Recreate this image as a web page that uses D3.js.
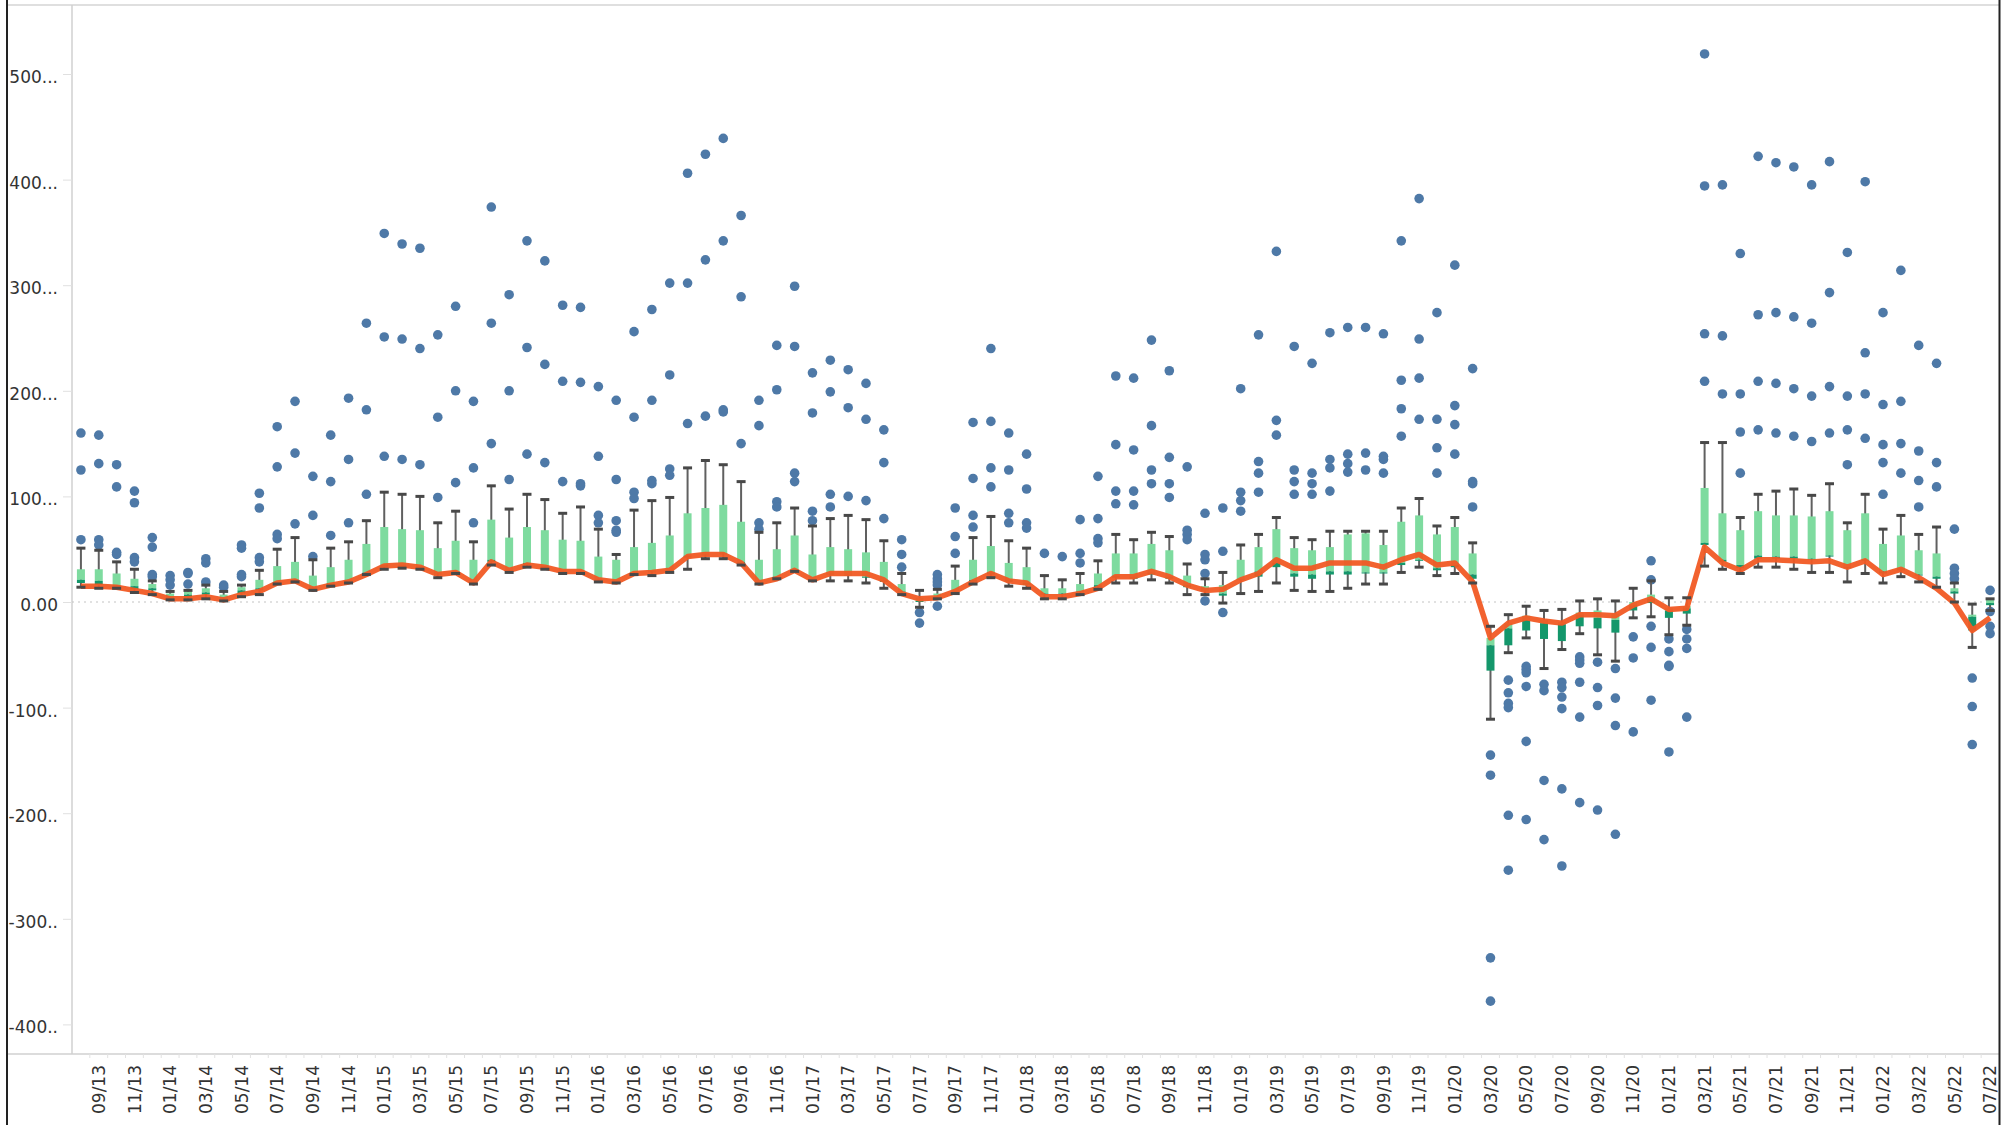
<!DOCTYPE html>
<html lang="en">

<head>
    <meta charset="UTF-8">
    <script src="https://d3js.org/d3.v7.min.js"></script>
    <title>Monthly box plot</title>
    <style>
        body { margin: 0; background: #fff; }
        text { font-family: "DejaVu Sans", sans-serif; }
    </style>
</head>

<body>
    <div id="chart"></div>
    <script>
        const months = [
            "08/13", "09/13", "10/13", "11/13", "12/13",
            "01/14", "02/14", "03/14", "04/14", "05/14", "06/14", "07/14", "08/14", "09/14", "10/14", "11/14", "12/14",
            "01/15", "02/15", "03/15", "04/15", "05/15", "06/15", "07/15", "08/15", "09/15", "10/15", "11/15", "12/15",
            "01/16", "02/16", "03/16", "04/16", "05/16", "06/16", "07/16", "08/16", "09/16", "10/16", "11/16", "12/16",
            "01/17", "02/17", "03/17", "04/17", "05/17", "06/17", "07/17", "08/17", "09/17", "10/17", "11/17", "12/17",
            "01/18", "02/18", "03/18", "04/18", "05/18", "06/18", "07/18", "08/18", "09/18", "10/18", "11/18", "12/18",
            "01/19", "02/19", "03/19", "04/19", "05/19", "06/19", "07/19", "08/19", "09/19", "10/19", "11/19", "12/19",
            "01/20", "02/20", "03/20", "04/20", "05/20", "06/20", "07/20", "08/20", "09/20", "10/20", "11/20", "12/20",
            "01/21", "02/21", "03/21", "04/21", "05/21", "06/21", "07/21", "08/21", "09/21", "10/21", "11/21", "12/21",
            "01/22", "02/22", "03/22", "04/22", "05/22", "06/22", "07/22"
        ];

        const xTickLabels = [
            "09/13", "11/13", "01/14", "03/14", "05/14", "07/14", "09/14", "11/14",
            "01/15", "03/15", "05/15", "07/15", "09/15", "11/15", "01/16", "03/16", "05/16", "07/16", "09/16", "11/16",
            "01/17", "03/17", "05/17", "07/17", "09/17", "11/17", "01/18", "03/18", "05/18", "07/18", "09/18", "11/18",
            "01/19", "03/19", "05/19", "07/19", "09/19", "11/19", "01/20", "03/20", "05/20", "07/20", "09/20", "11/20",
            "01/21", "03/21", "05/21", "07/21", "09/21", "11/21", "01/22", "03/22", "05/22", "07/22"
        ];

        const yTicks = [-400, -300, -200, -100, 0, 100, 200, 300, 400, 500];
        const yTickLabels = ["-400..", "-300..", "-200..", "-100..", "0.00", "100...", "200...", "300...", "400...", "500..."];

        const whiskerLow = [
            14, 13, 13, 9, 7, 2, 2, 3, 1, 5, 7, 17,
            19, 11, 15, 18, 26, 31, 32, 31, 23, 27, 17, 35,
            28, 33, 31, 27, 27, 19, 18, 26, 25, 28, 31, 41,
            41, 35, 17, 22, 29, 20, 20, 20, 18, 13, 7, -5,
            3, 8, 17, 23, 15, 13, 3, 3, 7, 12, 18, 18,
            21, 18, 7, 7, -1, 8, 10, 18, 11, 10, 10, 13,
            17, 17, 28, 33, 25, 27, 18, -111, -48, -34, -63, -45,
            -30, -50, -56, -15, -14, -31, -22, 34, 31, 27, 33, 33,
            31, 28, 28, 19, 27, 18, 24, 19, 14, 0, -43, -8
        ];

        const q1 = [
            18, 16, 14, 12, 11, 3, 4, 7, 3, 8, 11, 18,
            20, 12, 16, 19, 27, 33, 33, 32, 26, 28, 18, 38,
            29, 35, 32, 28, 28, 21, 19, 27, 28, 29, 42, 44,
            45, 37, 18, 23, 29, 21, 26, 25, 23, 19, 9, 0,
            4, 9, 19, 26, 19, 16, 7, 7, 9, 14, 23, 22,
            26, 22, 14, 10, 6, 21, 24, 33, 24, 22, 26, 26,
            27, 27, 35, 39, 30, 33, 22, -65, -41, -27, -35, -37,
            -23, -25, -29, -8, -1, -15, -11, 54, 38, 32, 41, 41,
            41, 40, 43, 32, 39, 27, 30, 25, 22, 8, -27, -3
        ];

        const median = [
            21, 20, 16, 15, 13, 5, 7, 9, 4, 11, 13, 19,
            21, 14, 18, 21, 28, 35, 35, 34, 27, 29, 19, 40,
            30, 37, 34, 29, 29, 22, 21, 28, 29, 30, 44, 45,
            46, 38, 19, 24, 30, 22, 27, 26, 24, 21, 10, 1,
            5, 10, 21, 28, 21, 18, 8, 8, 10, 16, 25, 24,
            28, 24, 16, 11, 8, 22, 29, 37, 27, 26, 29, 29,
            28, 28, 37, 40, 32, 35, 26, -41, -25, -17, -20, -21,
            -12, -15, -17, -3, 3, -8, -6, 56, 40, 35, 44, 43,
            43, 41, 44, 33, 40, 29, 32, 26, 24, 10, -14, -1
        ];

        const q3 = [
            31, 31, 27, 22, 17, 8, 10, 13, 7, 14, 21, 34,
            38, 25, 33, 40, 55, 71, 69, 68, 51, 58, 40, 78,
            61, 71, 68, 59, 58, 43, 40, 52, 56, 63, 84, 89,
            92, 76, 40, 50, 63, 45, 52, 50, 47, 38, 17, 4,
            8, 21, 40, 53, 37, 33, 13, 13, 17, 27, 46, 46,
            55, 49, 25, 15, 16, 40, 52, 69, 51, 49, 52, 64,
            65, 54, 76, 82, 64, 71, 46, -34, -20, -13, -17, -19,
            -10, -8, -11, 0, 7, -6, -4, 108, 84, 68, 86, 82,
            82, 81, 86, 68, 84, 55, 63, 49, 46, 13, -12, 2
        ];

        const whiskerHigh = [
            51, 49, 38, 31, 20, 10, 11, 16, 10, 16, 30, 50,
            61, 40, 51, 57, 77, 104, 102, 100, 75, 86, 57, 110,
            88, 102, 97, 84, 90, 69, 45, 87, 96, 99, 127, 134,
            130, 114, 66, 75, 89, 72, 79, 82, 78, 58, 27, 11,
            12, 34, 61, 81, 58, 51, 25, 21, 27, 39, 64, 59,
            66, 62, 36, 22, 28, 54, 64, 80, 61, 59, 67, 67,
            67, 67, 89, 98, 72, 80, 56, -23, -12, -4, -8, -7,
            1, 3, 1, 13, 20, 4, 4, 151, 151, 80, 102, 105,
            107, 101, 112, 75, 102, 69, 82, 64, 71, 18, -2, 3
        ];

        const trendLine = [
            15, 15, 14, 11, 8, 3, 3, 5, 2, 7, 10, 18,
            20, 12, 16, 19, 26, 34, 35, 33, 26, 28, 18, 38,
            30, 35, 33, 29, 29, 21, 19, 27, 28, 30, 43, 45,
            45, 37, 18, 22, 30, 21, 27, 27, 27, 21, 8, 3,
            4, 10, 19, 27, 20, 18, 5, 5, 8, 13, 24, 24,
            29, 24, 16, 11, 12, 21, 27, 40, 32, 32, 37, 37,
            37, 33, 40, 45, 35, 37, 19, -34, -20, -15, -18, -20,
            -12, -12, -13, -3, 3, -7, -6, 52, 37, 30, 40, 40,
            39, 38, 39, 33, 39, 26, 31, 23, 13, -1, -27, -15
        ];

        const outliers = [
            [160, 125, 59], [158, 131, 59, 54], [130, 109, 47, 45], [105, 94, 42, 38], [61, 52, 26, 24],
            [25, 21, 16], [28, 27, 17], [41, 37, 19], [16, 14], [54, 51, 26, 24], [103, 89, 42, 38],
            [166, 128, 64, 60], [190, 141, 74], [119, 82, 43], [158, 114, 63], [193, 135, 75], [264, 182, 102],
            [349, 251, 138], [339, 249, 135], [335, 240, 130], [253, 175, 99], [280, 200, 113], [190, 127, 75],
            [374, 264, 150], [291, 200, 116], [342, 241, 140], [323, 225, 132], [281, 209, 114], [279, 208, 112, 110],
            [204, 138, 82, 75], [191, 116, 77, 68, 66], [256, 175, 104, 98], [277, 191, 115, 112], [302, 215, 126, 120],
            [406, 302, 169], [424, 324, 176], [439, 342, 182, 180], [366, 289, 150], [191, 167, 75, 69],
            [243, 201, 95, 90], [299, 242, 122, 114],
            [217, 179, 86, 77], [229, 199, 102, 90], [220, 184, 100], [207, 173, 96], [163, 132, 79], [59, 45, 33],
            [-10, -20], [26, 22, 19, 16, -4], [89, 62, 46], [170, 117, 82, 71], [240, 171, 127, 109], [160, 125, 84, 75],
            [140, 107, 75, 70], [46], [43], [78, 46, 37], [119, 79, 60, 56], [214, 149, 105, 93],
            [212, 144, 105, 92], [248, 167, 125, 112], [219, 137, 112, 99], [128, 68, 64, 59], [84, 45, 40, 27, 1],
            [89, 48, -10],
            [202, 104, 96, 86], [253, 133, 122, 104], [332, 172, 158], [242, 125, 114, 102], [226, 122, 112, 102],
            [255, 135, 127, 105], [260, 140, 131, 123], [260, 141, 125], [254, 138, 135, 122], [342, 210, 183, 157],
            [382, 249, 212, 173], [274, 173, 146, 122],
            [319, 186, 168, 140], [221, 114, 112, 90], [-145, -164, -337, -378], [-74, -86, -96, -100, -202, -254],
            [-61, -64, -67, -80, -132, -206], [-78, -84, -169, -225], [-76, -81, -90, -101, -177, -250],
            [-52, -55, -58, -76, -109, -190], [-57, -81, -98, -197], [-63, -91, -117, -220], [-33, -53, -123],
            [39, 21, -23, -43, -93],
            [-35, -47, -60, -61, -142], [-26, -35, -44, -109], [519, 394, 254, 209], [395, 252, 197],
            [330, 197, 161, 122], [422, 272, 209, 163], [416, 274, 207, 160], [412, 270, 202, 157],
            [395, 264, 195, 152], [417, 293, 204, 160], [331, 195, 163, 130], [398, 236, 197, 155],
            [274, 187, 149, 132, 102], [314, 190, 150, 122], [243, 143, 115, 90], [226, 132, 109], [69, 32, 27, 22],
            [-72, -99, -135], [11, -9, -23, -30]
        ];

        const width = 2002, height = 1125;
        const plotLeft = 72, plotRight = 1999, plotTop = 5, plotBottom = 1054;

        const svg = d3.select("#chart").append("svg")
            .attr("width", width)
            .attr("height", height);

        const x = d3.scaleBand().domain(months).range([plotLeft, plotRight]).padding(0);
        const y = d3.scaleLinear().domain([-400, 500]).range([1024.4, 74]);
        const cx = m => x(m) + x.bandwidth() / 2;

        // frame
        svg.append("line").attr("x1", 7).attr("x2", plotRight).attr("y1", plotTop).attr("y2", plotTop)
            .attr("stroke", "#d4d4d4").attr("stroke-width", 1.5);
        svg.append("line").attr("x1", plotLeft).attr("x2", plotLeft).attr("y1", plotTop).attr("y2", plotBottom)
            .attr("stroke", "#d0d0d0").attr("stroke-width", 1.5);
        svg.append("line").attr("x1", 7).attr("x2", plotRight).attr("y1", plotBottom).attr("y2", plotBottom)
            .attr("stroke", "#d0d0d0").attr("stroke-width", 1.5);

        // y axis
        svg.append("g")
            .attr("transform", `translate(${plotLeft},0)`)
            .call(d3.axisLeft(y).tickValues(yTicks).tickFormat((d, i) => yTickLabels[i]).tickSize(9).tickPadding(5))
            .call(g => g.select(".domain").remove())
            .call(g => g.selectAll(".tick line").attr("stroke", "#e0e0e0"))
            .call(g => g.selectAll(".tick text")
                .attr("dy", "0.5em")
                .attr("fill", "#333")
                .style("font-size", "17px")
                .style("font-family", "DejaVu Sans, sans-serif"));

        // zero reference line
        svg.append("line")
            .attr("x1", plotLeft).attr("x2", plotRight)
            .attr("y1", y(0)).attr("y2", y(0))
            .attr("stroke", "#c4c4c4").attr("stroke-width", 1.2)
            .attr("stroke-dasharray", "2,4");

        // x axis: faint ticks on band edges, then rotated labels
        svg.append("g")
            .selectAll("line")
            .data(months.slice(1))
            .join("line")
            .attr("x1", d => x(d)).attr("x2", d => x(d))
            .attr("y1", plotBottom).attr("y2", plotBottom + 4)
            .attr("stroke", "#e2e2e2");

        svg.append("g")
            .attr("transform", `translate(0,${plotBottom})`)
            .call(d3.axisBottom(x).tickValues(xTickLabels).tickSize(0))
            .call(g => g.select(".domain").remove())
            .call(g => g.selectAll(".tick text")
                .attr("transform", "rotate(-90)")
                .attr("x", -11)
                .attr("y", 0)
                .attr("dy", "0.36em")
                .attr("text-anchor", "end")
                .attr("fill", "#333")
                .style("font-size", "17px")
                .style("font-family", "DejaVu Sans, sans-serif"));

        // outlier dots
        const dots = [];
        months.forEach((m, i) => outliers[i].forEach(v => dots.push({ m, v })));
        svg.append("g")
            .selectAll("circle")
            .data(dots)
            .join("circle")
            .attr("cx", d => cx(d.m))
            .attr("cy", d => y(d.v))
            .attr("r", 4.8)
            .attr("fill", "#4e79a7");

        // whiskers
        svg.append("g")
            .selectAll("line")
            .data(months)
            .join("line")
            .attr("x1", d => cx(d)).attr("x2", d => cx(d))
            .attr("y1", (d, i) => y(whiskerHigh[i]))
            .attr("y2", (d, i) => y(whiskerLow[i]))
            .attr("stroke", "#606060").attr("stroke-width", 2);

        const boxW = 8;
        // upper part of box: median to q3
        svg.append("g")
            .selectAll("rect")
            .data(months)
            .join("rect")
            .attr("x", d => cx(d) - boxW / 2)
            .attr("width", boxW)
            .attr("y", (d, i) => y(q3[i]))
            .attr("height", (d, i) => Math.max(1, y(median[i]) - y(q3[i])))
            .attr("fill", "#7edb9f");

        // lower part of box: q1 to median
        svg.append("g")
            .selectAll("rect")
            .data(months)
            .join("rect")
            .attr("x", d => cx(d) - boxW / 2)
            .attr("width", boxW)
            .attr("y", (d, i) => y(median[i]))
            .attr("height", (d, i) => Math.max(1, y(q1[i]) - y(median[i])))
            .attr("fill", "#14976b");

        // orange line
        const line = d3.line()
            .x(d => cx(d))
            .y((d, i) => y(trendLine[i]));
        svg.append("path")
            .datum(months)
            .attr("d", line)
            .attr("fill", "none")
            .attr("stroke", "#f15a24")
            .attr("stroke-width", 5.5)
            .attr("stroke-linejoin", "round")
            .attr("stroke-opacity", 0.95);

        // whisker caps
        const capW = 9;
        [whiskerHigh, whiskerLow].forEach(arr => {
            svg.append("g")
                .selectAll("rect")
                .data(months)
                .join("rect")
                .attr("x", d => cx(d) - capW / 2)
                .attr("width", capW)
                .attr("y", (d, i) => y(arr[i]) - 1.5)
                .attr("height", 3)
                .attr("fill", "#484848");
        });

        // outer borders
        svg.append("rect").attr("x", 6).attr("y", 0).attr("width", 2).attr("height", height).attr("fill", "#222");
        svg.append("rect").attr("x", 1998.5).attr("y", 0).attr("width", 2).attr("height", height).attr("fill", "#222");
    </script>
</body>

</html>
